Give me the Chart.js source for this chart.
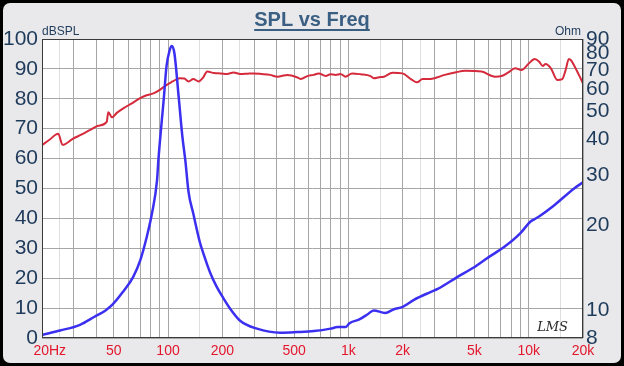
<!DOCTYPE html>
<html lang="en">
<head>
  <meta charset="UTF-8">
  <title>SPL vs Freq</title>
  <script src="https://cdn.jsdelivr.net/npm/chart.js"></script>
  <style>
    body { margin: 0; background: #000; }
    #wrap { width: 624px; height: 366px; }
  </style>
</head>
<body>
  <div id="wrap"><canvas id="splChart" width="624" height="366"></canvas></div>

  <script>
    // SPL curve (left axis, dB)
    const splFreq = [20, 22, 24.6, 26, 29.6, 33, 37, 41, 45.7, 46.6, 48.9, 52, 56.5, 63, 70, 76, 83, 90, 98, 106,
      112, 116, 123, 130, 138, 148, 156, 165, 180, 196, 212, 231, 251, 275, 298, 330, 368, 404, 460, 524,
      545, 592, 640, 685, 748, 796, 850, 905, 964, 1048, 1171, 1327, 1382, 1480, 1575, 1755, 1996, 2223, 2400, 2580,
      2753, 3000, 3420, 3900, 4440, 5480, 6500, 7070, 7700, 8400, 9120, 10000, 10800, 11400, 11960, 12400, 13270, 14400, 15350, 16000,
      16700, 17200, 17800, 18980, 20000];
    const splDb = [64.5, 66.3, 68.3, 64.6, 66.6, 68.0, 69.6, 71.0, 72.3, 75.5, 73.8, 75.3, 76.8, 78.5, 80.2, 81.2, 81.8, 83.0, 84.6, 85.8,
      86.6, 86.9, 86.8, 85.8, 86.6, 85.8, 87.0, 89.1, 88.6, 88.5, 88.3, 88.8, 88.3, 88.4, 88.5, 88.3, 88.0, 87.4, 88.0, 87.1,
      86.6, 87.6, 88.0, 88.5, 87.6, 88.2, 88.0, 88.3, 87.4, 88.5, 88.2, 87.6, 86.9, 87.2, 87.4, 88.7, 88.5, 86.6, 85.5, 86.6,
      86.6, 86.9, 88.0, 88.8, 89.4, 89.1, 87.4, 87.6, 88.8, 90.2, 89.6, 91.8, 93.3, 92.5, 91.0, 91.6, 90.2, 86.3, 86.6, 89.5,
      93.3, 92.8, 91.3, 88.0, 85.2];

    // impedance curve (right axis, ohm)
    const impFreq = [20, 25.2, 32.5, 39.1, 45, 49.3, 56.1, 64, 70.1, 76.3, 81.4, 86.9, 88.4, 94.9, 98, 102, 105, 108.5, 114.5, 120,
      124.6, 130, 138, 150, 160, 171, 185, 200, 222, 251, 311, 419, 518, 644, 797, 870, 968, 1010, 1150, 1280,
      1380, 1600, 1790, 2000, 2310, 2850, 3130, 4010, 4900, 6000, 7300, 9000, 10200, 11300, 13700, 17800, 20000];
    const impOhm = [8.2, 8.5, 8.9, 9.5, 10.0, 10.5, 11.6, 13.1, 15.0, 18.2, 21.9, 28.7, 33.8, 56.4, 72.0, 82.0, 85.0, 80.0, 56.4, 41.0,
      33.8, 26.0, 21.9, 17.4, 15.3, 13.6, 12.2, 11.2, 10.1, 9.2, 8.63, 8.35, 8.39, 8.46, 8.63, 8.74, 8.74, 9.0, 9.3, 9.7,
      10.0, 9.8, 10.1, 10.3, 10.9, 11.6, 11.9, 13.1, 14.1, 15.4, 16.7, 18.7, 20.5, 21.3, 23.3, 26.8, 28.2];

    // axes
    const freqTicks = [20, 25, 30, 40, 50, 60, 70, 80, 90, 100, 150, 200, 250, 300, 400, 500, 600, 700, 800, 900,
      1000, 1500, 2000, 2500, 3000, 4000, 5000, 6000, 7000, 8000, 9000, 10000, 15000, 20000];
    const freqLight = [25, 150, 250, 1500, 2500, 15000];
    const freqLabels = { 20: '    20Hz', 50: '50', 100: '100', 200: '200', 500: '500', 1000: '1k', 2000: '2k', 5000: '5k', 10000: '10k', 20000: '20k' };
    const ohmTicks = [8, 10, 20, 30, 40, 50, 60, 70, 80, 90];

    const FONT = '"Liberation Sans", Arial, sans-serif';
    const NAVY = '#1f3b5b';

    // panel background, plot frame and the small captions
    const panelPlugin = {
      id: 'panel',
      beforeDraw(chart) {
        const { ctx, width, height, chartArea: a } = chart;
        ctx.save();
        ctx.fillStyle = '#000';
        ctx.fillRect(0, 0, width, height);
        ctx.fillStyle = '#e9e9eb';
        ctx.beginPath();
        ctx.roundRect(3, 3, width - 6, height - 6, 7);
        ctx.fill();
        ctx.fillStyle = '#fff';
        ctx.fillRect(a.left, a.top, a.right - a.left, a.bottom - a.top);
        ctx.restore();
      },
      afterDraw(chart) {
        const { ctx, chartArea: a } = chart;
        ctx.save();
        ctx.strokeStyle = '#3a3a3a';
        ctx.lineWidth = 1;
        ctx.strokeRect(a.left + 0.5, a.top + 0.5, a.right - a.left - 1, a.bottom - a.top - 1);

        ctx.fillStyle = NAVY;
        ctx.font = '12px ' + FONT;
        ctx.textBaseline = 'alphabetic';
        ctx.textAlign = 'left';
        ctx.fillText('dBSPL', a.left, a.top - 4);
        ctx.textAlign = 'right';
        ctx.fillText('Ohm', a.right - 2, a.top - 4);

        ctx.fillStyle = '#2a2a2a';
        ctx.font = 'italic 13px "DejaVu Serif", serif';
        ctx.textAlign = 'right';
        ctx.fillText('LMS', a.right - 15, a.bottom - 7);

        // title underline
        const t = chart.titleBlock;
        ctx.font = 'bold 20px ' + FONT;
        const w = ctx.measureText('SPL vs Freq').width;
        const cx = (t.left + t.right) / 2;
        ctx.strokeStyle = '#3b5f82';
        ctx.lineWidth = 2;
        ctx.beginPath();
        ctx.moveTo(cx - w / 2, 30);
        ctx.lineTo(cx + w / 2, 30);
        ctx.stroke();
        ctx.restore();
      }
    };

    new Chart(document.getElementById('splChart'), {
      type: 'line',
      data: {
        datasets: [{
          label: 'Impedance',
          data: impFreq.map((f, i) => ({ x: f, y: impOhm[i] })),
          yAxisID: 'y2',
          borderColor: '#3b2ff0',
          borderWidth: 2.5,
          pointRadius: 0,
          cubicInterpolationMode: 'monotone'
        }, {
          label: 'SPL',
          data: splFreq.map((f, i) => ({ x: f, y: splDb[i] })),
          yAxisID: 'y',
          borderColor: '#d42a3c',
          borderWidth: 2,
          pointRadius: 0,
          cubicInterpolationMode: 'monotone'
        }]
      },
      options: {
        responsive: false,
        animation: false,
        devicePixelRatio: 1,
        layout: { padding: 0 },
        plugins: {
          legend: { display: false },
          tooltip: { enabled: false },
          title: {
            display: true,
            text: 'SPL vs Freq',
            color: '#3b5f82',
            font: { family: FONT, size: 20, weight: 'bold' },
            padding: { top: 8, bottom: 7 }
          }
        },
        scales: {
          x: {
            type: 'logarithmic',
            min: 20,
            max: 20000,
            afterBuildTicks: s => { s.ticks = freqTicks.map(v => ({ value: v })); },
            afterFit: s => { s.height = 28; },
            border: { display: false },
            grid: {
              drawTicks: false,
              color: c => freqLight.includes(c.tick && c.tick.value) ? '#dedede' : '#a6a6a6'
            },
            ticks: {
              autoSkip: false,
              maxRotation: 0,
              padding: 5,
              color: '#e3162c',
              font: { family: FONT, size: 14 },
              callback: v => freqLabels[v] || ''
            }
          },
          y: {
            position: 'left',
            min: 0,
            max: 100,
            afterFit: s => { s.width = 42; },
            border: { display: false },
            grid: {
              drawTicks: false,
              color: c => (c.tick && c.tick.value % 10 === 0) ? '#a6a6a6' : '#dedede'
            },
            ticks: {
              stepSize: 5,
              padding: 4,
              color: NAVY,
              font: { family: FONT, size: 21 },
              callback: v => v % 10 === 0 ? String(v) : ''
            }
          },
          y2: {
            type: 'logarithmic',
            position: 'right',
            min: 8,
            max: 90,
            afterBuildTicks: s => { s.ticks = ohmTicks.map(v => ({ value: v })); },
            afterFit: s => { s.width = 41; },
            border: { display: false },
            grid: { display: false, drawTicks: false },
            ticks: {
              autoSkip: false,
              padding: 3,
              color: NAVY,
              font: { family: FONT, size: 21 },
              callback: v => String(v)
            }
          }
        }
      },
      plugins: [panelPlugin]
    });
  </script>
</body>
</html>
